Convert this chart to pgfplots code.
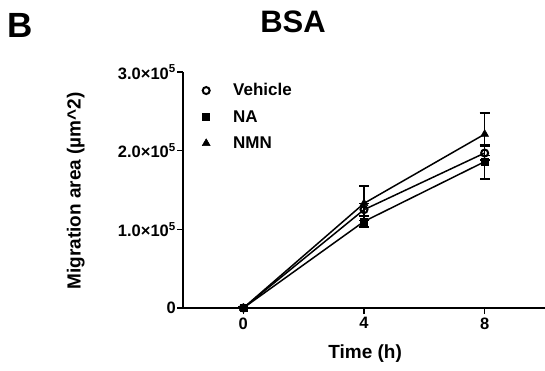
\documentclass[border=0pt]{standalone}
\usepackage{fontspec}
\setmainfont{Liberation Sans}
\usepackage{pgfplots}
\pgfplotsset{compat=1.18}
\begin{document}
\begin{tikzpicture}[x=1pt,y=1pt]
\useasboundingbox (0,0) rectangle (545,370);
\node[font=\bfseries\fontsize{35}{35}\selectfont, anchor=base west, inner sep=0pt] at (7,332) {B};
\node[font=\bfseries\fontsize{31}{31}\selectfont, anchor=base, inner sep=0pt] at (293,337) {BSA};
\begin{axis}[
  at={(183pt,62pt)}, anchor=south west,
  scale only axis, width=362pt, height=236pt,
  xmin=-2, xmax=10, ymin=0, ymax=300000,
  axis x line=bottom, axis y line=left,
  axis line style={line width=1.8pt,-},
  xtick={0,4,8}, xticklabels={0,4,8},
  ytick={0,100000,200000,300000},
  yticklabels={0,1.0×10\textsuperscript{5},2.0×10\textsuperscript{5},3.0×10\textsuperscript{5}},
  scaled y ticks=false,
  tick align=outside, major tick length=6pt,
  tick style={line width=1.6pt, black},
  ticklabel style={font=\bfseries\fontsize{16.5}{16.5}\selectfont},
  yticklabel style={inner sep=1pt},
  xlabel={Time (h)},
  ylabel={Migration area (µm\textasciicircum 2)},
  xlabel style={font=\bfseries\fontsize{19}{19}\selectfont, at={(axis description cs:0.503,-0.195)}, anchor=center},
  ylabel style={font=\bfseries\fontsize{19}{19}\selectfont, at={(axis description cs:-0.296,0.496)}, anchor=center},
  legend style={draw=none, fill=none, at={(axis description cs:0.0,0.96)}, anchor=north west,
    font=\bfseries\fontsize{17}{17}\selectfont, row sep=9pt, inner sep=0pt},
  legend cell align=left,
  legend image code/.code={\path[draw=none,fill=none] (0pt,0pt) -- (48pt,0pt); \draw[#1] plot coordinates {(23pt,0pt)};},
  every axis plot/.append style={line width=1.5pt, black},
  error bars/y dir=both, error bars/y explicit,
  error bars/error mark options={rotate=90, mark size=5pt, line width=1.5pt, black},
  error bars/error bar style={line width=1.5pt, black},
]
\addlegendimage{only marks, mark=o, mark size=3.5pt, mark options={fill=white, line width=2pt}}
\addlegendentry{Vehicle}
\addlegendimage{only marks, mark=square*, mark size=3.5pt, mark options={line width=0.5pt}}
\addlegendentry{NA}
\addlegendimage{only marks, mark=triangle*, mark size=4.5pt, mark options={line width=0.5pt}}
\addlegendentry{NMN}
\addplot[forget plot, mark=o, mark size=3.5pt, mark options={fill=white, line width=2pt}] table[x=x, y=y, y error=e] {
x y e
0 0 1500
4 125000 8000
8 197000 9000
};
\addplot[forget plot, mark=square*, mark size=3.5pt, mark options={line width=0.5pt}] table[x=x, y=y, y error=e] {
x y e
0 0 1500
4 110000 7000
8 186000 22000
};
\addplot[forget plot, mark=triangle*, mark size=4.5pt, mark options={line width=0.5pt}] table[x=x, y=y, y error=e] {
x y e
0 0 1500
4 133000 22000
8 221000 27000
};
\end{axis}
\end{tikzpicture}
\end{document}
